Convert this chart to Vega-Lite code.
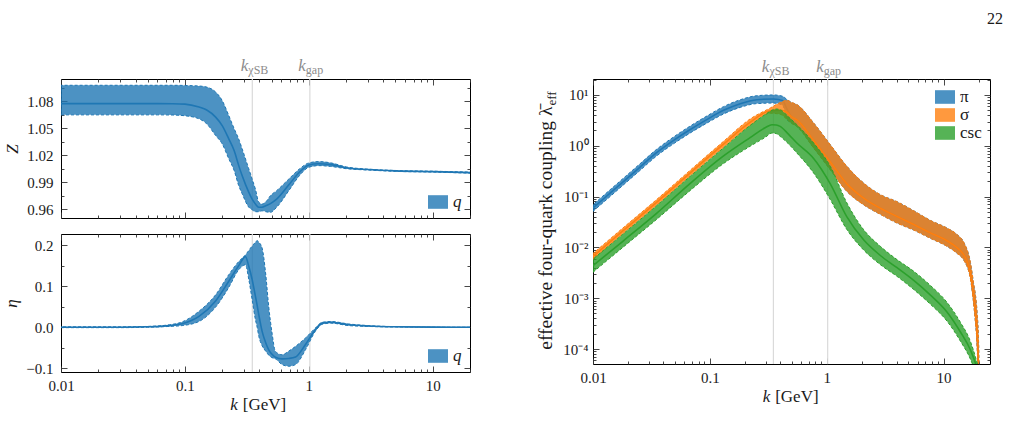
{
  "$schema": "https://vega.github.io/schema/vega-lite/v6.json",
  "background": "white",
  "padding": {"left": 2, "top": 10, "right": 5, "bottom": 5},
  "title": {"text": "22", "anchor": "end", "fontSize": 16, "font": "Liberation Serif", "fontWeight": "normal", "color": "#1a1a1a", "offset": 30, "dx": 12},
  "config": {
    "view": {"stroke": "#000", "strokeWidth": 1}
  },
  "datasets": {
    "Z": [
      {"k": 0.01, "lo": 1.065, "mid": 1.0775, "hi": 1.098, "s": "q"},
      {"k": 0.03, "lo": 1.065, "mid": 1.0775, "hi": 1.098, "s": "q"},
      {"k": 0.06, "lo": 1.065, "mid": 1.0775, "hi": 1.098, "s": "q"},
      {"k": 0.08, "lo": 1.0648, "mid": 1.0774, "hi": 1.098, "s": "q"},
      {"k": 0.1, "lo": 1.064, "mid": 1.077, "hi": 1.0978, "s": "q"},
      {"k": 0.13, "lo": 1.0606, "mid": 1.0737, "hi": 1.0972, "s": "q"},
      {"k": 0.15, "lo": 1.055, "mid": 1.0705, "hi": 1.096, "s": "q"},
      {"k": 0.177, "lo": 1.042, "mid": 1.0625, "hi": 1.0905, "s": "q"},
      {"k": 0.2, "lo": 1.0327, "mid": 1.053, "hi": 1.081, "s": "q"},
      {"k": 0.226, "lo": 1.016, "mid": 1.0383, "hi": 1.0643, "s": "q"},
      {"k": 0.25, "lo": 1.0028, "mid": 1.025, "hi": 1.0495, "s": "q"},
      {"k": 0.272, "lo": 0.986, "mid": 1.0084, "hi": 1.038, "s": "q"},
      {"k": 0.29, "lo": 0.977, "mid": 0.997, "hi": 1.027, "s": "q"},
      {"k": 0.328, "lo": 0.962, "mid": 0.9786, "hi": 1.0047, "s": "q"},
      {"k": 0.349, "lo": 0.9592, "mid": 0.971, "hi": 0.9935, "s": "q"},
      {"k": 0.371, "lo": 0.957, "mid": 0.9656, "hi": 0.982, "s": "q"},
      {"k": 0.395, "lo": 0.957, "mid": 0.962, "hi": 0.9675, "s": "q"},
      {"k": 0.42, "lo": 0.958, "mid": 0.962, "hi": 0.9655, "s": "q"},
      {"k": 0.45, "lo": 0.957, "mid": 0.9637, "hi": 0.968, "s": "q"},
      {"k": 0.49, "lo": 0.9563, "mid": 0.966, "hi": 0.9749, "s": "q"},
      {"k": 0.55, "lo": 0.962, "mid": 0.971, "hi": 0.9805, "s": "q"},
      {"k": 0.69, "lo": 0.9805, "mid": 0.987, "hi": 0.9935, "s": "q"},
      {"k": 0.84, "lo": 0.9972, "mid": 1.001, "hi": 1.0047, "s": "q"},
      {"k": 1.0, "lo": 1.0066, "mid": 1.009, "hi": 1.0114, "s": "q"},
      {"k": 1.2, "lo": 1.0084, "mid": 1.0105, "hi": 1.0129, "s": "q"},
      {"k": 1.5, "lo": 1.0075, "mid": 1.0095, "hi": 1.0115, "s": "q"},
      {"k": 2, "lo": 1.005, "mid": 1.006, "hi": 1.007, "s": "q"},
      {"k": 3, "lo": 1.0035, "mid": 1.004, "hi": 1.0045, "s": "q"},
      {"k": 5, "lo": 1.002, "mid": 1.0025, "hi": 1.003, "s": "q"},
      {"k": 10, "lo": 1.0012, "mid": 1.0017, "hi": 1.0022, "s": "q"},
      {"k": 20, "lo": 1.0, "mid": 1.0006, "hi": 1.0012, "s": "q"}
    ],
    "eta": [
      {"k": 0.01, "lo": -0.001, "mid": 0, "hi": 0.001, "s": "q"},
      {"k": 0.03, "lo": -0.001, "mid": 0, "hi": 0.001, "s": "q"},
      {"k": 0.05, "lo": 0.0, "mid": 0.001, "hi": 0.002, "s": "q"},
      {"k": 0.075, "lo": 0.002, "mid": 0.004, "hi": 0.006, "s": "q"},
      {"k": 0.095, "lo": 0.004, "mid": 0.0085, "hi": 0.013, "s": "q"},
      {"k": 0.13, "lo": 0.014, "mid": 0.0265, "hi": 0.039, "s": "q"},
      {"k": 0.177, "lo": 0.049, "mid": 0.064, "hi": 0.079, "s": "q"},
      {"k": 0.226, "lo": 0.097, "mid": 0.112, "hi": 0.128, "s": "q"},
      {"k": 0.272, "lo": 0.14, "mid": 0.15, "hi": 0.16, "s": "q"},
      {"k": 0.308, "lo": 0.152, "mid": 0.172, "hi": 0.176, "s": "q"},
      {"k": 0.328, "lo": 0.116, "mid": 0.148, "hi": 0.187, "s": "q"},
      {"k": 0.349, "lo": 0.067, "mid": 0.116, "hi": 0.198, "s": "q"},
      {"k": 0.371, "lo": 0.018, "mid": 0.075, "hi": 0.207, "s": "q"},
      {"k": 0.383, "lo": 0.0, "mid": 0.053, "hi": 0.211, "s": "q"},
      {"k": 0.395, "lo": -0.022, "mid": 0.03, "hi": 0.207, "s": "q"},
      {"k": 0.42, "lo": -0.045, "mid": -0.01, "hi": 0.193, "s": "q"},
      {"k": 0.448, "lo": -0.058, "mid": -0.037, "hi": 0.132, "s": "q"},
      {"k": 0.475, "lo": -0.068, "mid": -0.055, "hi": 0.05, "s": "q"},
      {"k": 0.505, "lo": -0.074, "mid": -0.066, "hi": -0.014, "s": "q"},
      {"k": 0.538, "lo": -0.077, "mid": -0.073, "hi": -0.059, "s": "q"},
      {"k": 0.609, "lo": -0.091, "mid": -0.077, "hi": -0.067, "s": "q"},
      {"k": 0.69, "lo": -0.095, "mid": -0.076, "hi": -0.058, "s": "q"},
      {"k": 0.782, "lo": -0.091, "mid": -0.0725, "hi": -0.0465, "s": "q"},
      {"k": 0.94, "lo": -0.055, "mid": -0.042, "hi": -0.026, "s": "q"},
      {"k": 1.13, "lo": -0.01, "mid": -0.006, "hi": -0.002, "s": "q"},
      {"k": 1.28, "lo": 0.007, "mid": 0.01, "hi": 0.012, "s": "q"},
      {"k": 1.5, "lo": 0.01, "mid": 0.012, "hi": 0.014, "s": "q"},
      {"k": 2.1, "lo": 0.004, "mid": 0.006, "hi": 0.008, "s": "q"},
      {"k": 3, "lo": 0.002, "mid": 0.003, "hi": 0.004, "s": "q"},
      {"k": 5, "lo": 0.0005, "mid": 0.001, "hi": 0.0015, "s": "q"},
      {"k": 10, "lo": 0.0, "mid": 0.0003, "hi": 0.0006, "s": "q"},
      {"k": 20, "lo": -0.0003, "mid": 0.0, "hi": 0.0003, "s": "q"}
    ],
    "lam": [
      {"k": 0.01, "ch": "π", "lo": 0.0513, "mid": 0.0596, "hi": 0.0692},
      {"k": 0.014, "ch": "π", "lo": 0.1, "mid": 0.117, "hi": 0.136},
      {"k": 0.018, "ch": "π", "lo": 0.166, "mid": 0.193, "hi": 0.225},
      {"k": 0.025, "ch": "π", "lo": 0.32, "mid": 0.372, "hi": 0.433},
      {"k": 0.035, "ch": "π", "lo": 0.627, "mid": 0.73, "hi": 0.849},
      {"k": 0.05, "ch": "π", "lo": 1.13, "mid": 1.318, "hi": 1.54},
      {"k": 0.068, "ch": "π", "lo": 1.79, "mid": 2.09, "hi": 2.45},
      {"k": 0.095, "ch": "π", "lo": 2.818, "mid": 3.311, "hi": 3.89},
      {"k": 0.131, "ch": "π", "lo": 4.217, "mid": 4.977, "hi": 5.888},
      {"k": 0.182, "ch": "π", "lo": 5.689, "mid": 6.745, "hi": 8.035},
      {"k": 0.253, "ch": "π", "lo": 6.761, "mid": 8.072, "hi": 9.661},
      {"k": 0.351, "ch": "π", "lo": 6.918, "mid": 8.337, "hi": 10.0},
      {"k": 0.42, "ch": "π", "lo": 6.31, "mid": 7.762, "hi": 9.441},
      {"k": 0.457, "ch": "π", "lo": 3.311, "mid": 5.248, "hi": 8.128},
      {"k": 0.5, "ch": "π", "lo": 2.786, "mid": 3.715, "hi": 7.129},
      {"k": 0.556, "ch": "π", "lo": 2.399, "mid": 3.236, "hi": 6.457},
      {"k": 0.773, "ch": "π", "lo": 0.906, "mid": 1.274, "hi": 2.812},
      {"k": 1.074, "ch": "π", "lo": 0.339, "mid": 0.479, "hi": 1.052},
      {"k": 1.49, "ch": "π", "lo": 0.1265, "mid": 0.178, "hi": 0.394},
      {"k": 2.07, "ch": "π", "lo": 0.0692, "mid": 0.0933, "hi": 0.185},
      {"k": 2.88, "ch": "π", "lo": 0.0447, "mid": 0.0589, "hi": 0.109},
      {"k": 4.0, "ch": "π", "lo": 0.0302, "mid": 0.0407, "hi": 0.0794},
      {"k": 5.56, "ch": "π", "lo": 0.0219, "mid": 0.0282, "hi": 0.0525},
      {"k": 7.73, "ch": "π", "lo": 0.0151, "mid": 0.0193, "hi": 0.0339},
      {"k": 10.7, "ch": "π", "lo": 0.0105, "mid": 0.0135, "hi": 0.024},
      {"k": 13.1, "ch": "π", "lo": 0.00759, "mid": 0.00977, "hi": 0.0178},
      {"k": 14.9, "ch": "π", "lo": 0.00562, "mid": 0.00716, "hi": 0.0126},
      {"k": 17.0, "ch": "π", "lo": 0.0024, "mid": 0.00302, "hi": 0.00501},
      {"k": 18.2, "ch": "π", "lo": 0.000708, "mid": 0.000933, "hi": 0.00178},
      {"k": 18.8, "ch": "π", "lo": 0.000316, "mid": 0.000468, "hi": 0.00112},
      {"k": 19.4, "ch": "π", "lo": 0.000115, "mid": 0.000178, "hi": 0.000501},
      {"k": 20.0, "ch": "π", "lo": 0.00001, "mid": 0.0000251, "hi": 0.000115},
      {"k": 20.3, "ch": "π", "lo": 0.000001, "mid": 0.0000016, "hi": 0.000005},
      {"k": 0.01, "ch": "σ", "lo": 0.00575, "mid": 0.00661, "hi": 0.00759},
      {"k": 0.018, "ch": "σ", "lo": 0.0186, "mid": 0.0211, "hi": 0.024},
      {"k": 0.035, "ch": "σ", "lo": 0.0676, "mid": 0.0767, "hi": 0.0871},
      {"k": 0.068, "ch": "σ", "lo": 0.257, "mid": 0.292, "hi": 0.331},
      {"k": 0.131, "ch": "σ", "lo": 0.933, "mid": 1.072, "hi": 1.222},
      {"k": 0.221, "ch": "σ", "lo": 2.512, "mid": 2.884, "hi": 3.365},
      {"k": 0.329, "ch": "σ", "lo": 4.365, "mid": 4.898, "hi": 5.546},
      {"k": 0.4, "ch": "σ", "lo": 4.169, "mid": 5.012, "hi": 7.079},
      {"k": 0.457, "ch": "σ", "lo": 3.311, "mid": 4.571, "hi": 7.834},
      {"k": 0.5, "ch": "σ", "lo": 2.786, "mid": 3.715, "hi": 7.129},
      {"k": 0.556, "ch": "σ", "lo": 2.399, "mid": 3.236, "hi": 6.457},
      {"k": 0.773, "ch": "σ", "lo": 0.906, "mid": 1.274, "hi": 2.812},
      {"k": 1.074, "ch": "σ", "lo": 0.339, "mid": 0.479, "hi": 1.052},
      {"k": 1.49, "ch": "σ", "lo": 0.1265, "mid": 0.178, "hi": 0.394},
      {"k": 2.07, "ch": "σ", "lo": 0.0692, "mid": 0.0933, "hi": 0.185},
      {"k": 2.88, "ch": "σ", "lo": 0.0447, "mid": 0.0589, "hi": 0.109},
      {"k": 4.0, "ch": "σ", "lo": 0.0302, "mid": 0.0407, "hi": 0.0794},
      {"k": 5.56, "ch": "σ", "lo": 0.0219, "mid": 0.0282, "hi": 0.0525},
      {"k": 7.73, "ch": "σ", "lo": 0.0151, "mid": 0.0193, "hi": 0.0339},
      {"k": 10.7, "ch": "σ", "lo": 0.0105, "mid": 0.0135, "hi": 0.024},
      {"k": 13.1, "ch": "σ", "lo": 0.00759, "mid": 0.00977, "hi": 0.0178},
      {"k": 14.9, "ch": "σ", "lo": 0.00562, "mid": 0.00716, "hi": 0.0126},
      {"k": 17.0, "ch": "σ", "lo": 0.0024, "mid": 0.00302, "hi": 0.00501},
      {"k": 18.2, "ch": "σ", "lo": 0.000708, "mid": 0.000933, "hi": 0.00178},
      {"k": 18.8, "ch": "σ", "lo": 0.000316, "mid": 0.000468, "hi": 0.00112},
      {"k": 19.4, "ch": "σ", "lo": 0.000115, "mid": 0.000178, "hi": 0.000501},
      {"k": 20.0, "ch": "σ", "lo": 0.00001, "mid": 0.0000251, "hi": 0.000115},
      {"k": 20.3, "ch": "σ", "lo": 0.000001, "mid": 0.0000016, "hi": 0.000005},
      {"k": 0.01, "ch": "csc", "lo": 0.00324, "mid": 0.00437, "hi": 0.00589},
      {"k": 0.018, "ch": "csc", "lo": 0.01, "mid": 0.0132, "hi": 0.0182},
      {"k": 0.035, "ch": "csc", "lo": 0.0355, "mid": 0.0468, "hi": 0.0661},
      {"k": 0.068, "ch": "csc", "lo": 0.132, "mid": 0.182, "hi": 0.251},
      {"k": 0.131, "ch": "csc", "lo": 0.447, "mid": 0.631, "hi": 0.912},
      {"k": 0.221, "ch": "csc", "lo": 0.977, "mid": 1.445, "hi": 2.512},
      {"k": 0.3, "ch": "csc", "lo": 1.479, "mid": 2.291, "hi": 4.169},
      {"k": 0.34, "ch": "csc", "lo": 1.778, "mid": 2.6, "hi": 5.012},
      {"k": 0.37, "ch": "csc", "lo": 1.738, "mid": 2.57, "hi": 5.297},
      {"k": 0.4, "ch": "csc", "lo": 1.531, "mid": 2.41, "hi": 5.129},
      {"k": 0.47, "ch": "csc", "lo": 1.096, "mid": 1.698, "hi": 3.715},
      {"k": 0.556, "ch": "csc", "lo": 0.721, "mid": 1.135, "hi": 2.6},
      {"k": 0.773, "ch": "csc", "lo": 0.292, "mid": 0.562, "hi": 1.135},
      {"k": 1.074, "ch": "csc", "lo": 0.0871, "mid": 0.178, "hi": 0.394},
      {"k": 1.49, "ch": "csc", "lo": 0.0224, "mid": 0.0398, "hi": 0.0748},
      {"k": 2.07, "ch": "csc", "lo": 0.00891, "mid": 0.0141, "hi": 0.0224},
      {"k": 2.88, "ch": "csc", "lo": 0.00457, "mid": 0.00692, "hi": 0.0105},
      {"k": 4.0, "ch": "csc", "lo": 0.00269, "mid": 0.00398, "hi": 0.00575},
      {"k": 5.56, "ch": "csc", "lo": 0.00148, "mid": 0.00224, "hi": 0.00339},
      {"k": 7.73, "ch": "csc", "lo": 0.000759, "mid": 0.00115, "hi": 0.00178},
      {"k": 10.7, "ch": "csc", "lo": 0.000355, "mid": 0.000537, "hi": 0.000832},
      {"k": 14, "ch": "csc", "lo": 0.000141, "mid": 0.000214, "hi": 0.000331},
      {"k": 17, "ch": "csc", "lo": 0.0000631, "mid": 0.0000955, "hi": 0.000141},
      {"k": 19, "ch": "csc", "lo": 0.0000316, "mid": 0.0000479, "hi": 0.0000631},
      {"k": 20, "ch": "csc", "lo": 0.00002, "mid": 0.00003, "hi": 0.00004}
    ],
    "scales": [
      {"k": 0.35, "sub": "χSB"},
      {"k": 1.02, "sub": "gap"}
    ],
    "xtitle": [
      {"var": "k", "unit": "[GeV]"}
    ],
    "ytitle": [
      {"main": "effective four-quark coupling λ̄", "sub": "eff"}
    ]
  },
  "hconcat": [
    {
      "vconcat": [
        {
          "width": 409,
          "height": 139,
          "data": {"name": "Z"},
          "layer": [
            {
              "data": {"name": "scales"},
              "mark": {"type": "rule", "color": "#dadada", "strokeWidth": 1.2},
              "encoding": {"x": {"field": "k", "type": "quantitative", "scale": {"type": "log", "domain": [0.01, 20]}, "axis": null}}
            },
            {
              "mark": {"type": "area", "interpolate": "monotone", "fillOpacity": 0.8, "stroke": "#1f77b4", "strokeWidth": 1, "strokeDash": [3, 2], "clip": true},
              "encoding": {
                "x": {"field": "k", "type": "quantitative", "scale": {"type": "log", "domain": [0.01, 20]},
                  "axis": {"orient": "bottom", "labels": false, "title": null, "domain": false, "grid": false, "tickColor": "#333", "tickWidth": 0.9,
                    "values": [0.01,0.02,0.03,0.04,0.05,0.06,0.07,0.08,0.09,0.1,0.2,0.3,0.4,0.5,0.6,0.7,0.8,0.9,1,2,3,4,5,6,7,8,9,10,20],
                    "tickSize": {"condition": {"test": "indexof([0.01,0.1,1,10], datum.value) >= 0", "value": -6}, "value": -3}}},
                "y": {"field": "lo", "type": "quantitative", "scale": {"domain": [0.95, 1.105]},
                  "axis": {"orient": "left", "domain": false, "grid": false, "tickColor": "#333", "tickWidth": 0.9,
                    "title": "Z", "titleFont": "Liberation Serif", "titleFontSize": 17, "titleFontStyle": "italic", "titleFontWeight": "normal", "titleColor": "#1a1a1a", "titlePadding": 5,
                    "format": ".2f", "labelFont": "Liberation Serif", "labelFontSize": 15, "labelColor": "#1a1a1a", "labelPadding": 14, "labelOverlap": false, "labelFlush": false,
                    "values": [0.96,0.975,0.99,1.005,1.02,1.035,1.05,1.065,1.08,1.095],
                    "labelExpr": "indexof([0.96,0.99,1.02,1.05,1.08], datum.value) >= 0 ? datum.label : ''",
                    "tickSize": {"condition": {"test": "indexof([0.96,0.99,1.02,1.05,1.08], datum.value) >= 0", "value": -6}, "value": -3}}},
                "y2": {"field": "hi"},
                "color": {"field": "s", "type": "nominal", "scale": {"domain": ["q"], "range": ["#1f77b4"]},
                  "legend": {"title": null, "orient": "bottom-right", "offset": 8, "padding": 0, "labelFont": "Liberation Serif", "labelFontSize": 17, "labelFontStyle": "italic", "labelColor": "#1a1a1a", "labelOffset": 5,
                    "symbolType": "M-1,-0.68H1V0.68H-1Z", "symbolSize": 400, "symbolOpacity": 0.8, "symbolStrokeWidth": 0}}
              }
            },
            {
              "mark": {"type": "line", "interpolate": "monotone", "color": "#1f77b4", "strokeWidth": 1.6, "clip": true},
              "encoding": {
                "x": {"field": "k", "type": "quantitative", "scale": {"type": "log", "domain": [0.01, 20]},
                  "axis": {"orient": "top", "labels": false, "title": null, "domain": false, "grid": false, "tickColor": "#333", "tickWidth": 0.9,
                    "values": [0.01,0.02,0.03,0.04,0.05,0.06,0.07,0.08,0.09,0.1,0.2,0.3,0.4,0.5,0.6,0.7,0.8,0.9,1,2,3,4,5,6,7,8,9,10,20],
                    "tickSize": {"condition": {"test": "indexof([0.01,0.1,1,10], datum.value) >= 0", "value": -6}, "value": -3}}},
                "y": {"field": "mid", "type": "quantitative", "scale": {"domain": [0.95, 1.105]},
                  "axis": {"orient": "right", "labels": false, "title": null, "domain": false, "grid": false, "tickColor": "#333", "tickWidth": 0.9,
                    "values": [0.96,0.975,0.99,1.005,1.02,1.035,1.05,1.065,1.08,1.095],
                    "tickSize": {"condition": {"test": "indexof([0.96,0.99,1.02,1.05,1.08], datum.value) >= 0", "value": -6}, "value": -3}}}
              }
            },
            {
              "data": {"name": "scales"},
              "mark": {"type": "text", "text": "k", "font": "Liberation Serif", "fontStyle": "italic", "fontSize": 17, "color": "#8c8c8c", "align": "right", "baseline": "alphabetic", "dx": -4},
              "encoding": {
                "x": {"field": "k", "type": "quantitative", "scale": {"type": "log", "domain": [0.01, 20]}, "axis": null},
                "y": {"datum": 1.1136, "type": "quantitative", "scale": {"domain": [0.95, 1.105]}, "axis": null}
              }
            },
            {
              "data": {"name": "scales"},
              "mark": {"type": "text", "font": "Liberation Serif", "fontSize": 12, "color": "#8c8c8c", "align": "left", "baseline": "alphabetic", "dx": -4, "dy": 3},
              "encoding": {
                "x": {"field": "k", "type": "quantitative", "scale": {"type": "log", "domain": [0.01, 20]}, "axis": null},
                "y": {"datum": 1.1136, "type": "quantitative", "scale": {"domain": [0.95, 1.105]}, "axis": null},
                "text": {"field": "sub"}
              }
            }
          ],
          "resolve": {"axis": {"x": "independent", "y": "independent"}}
        },
        {
          "width": 409,
          "height": 138,
          "data": {"name": "eta"},
          "layer": [
            {
              "data": {"name": "scales"},
              "mark": {"type": "rule", "color": "#dadada", "strokeWidth": 1.2},
              "encoding": {"x": {"field": "k", "type": "quantitative", "scale": {"type": "log", "domain": [0.01, 20]}, "axis": null}}
            },
            {
              "mark": {"type": "area", "interpolate": "monotone", "fillOpacity": 0.8, "stroke": "#1f77b4", "strokeWidth": 1, "strokeDash": [3, 2], "clip": true},
              "encoding": {
                "x": {"field": "k", "type": "quantitative", "scale": {"type": "log", "domain": [0.01, 20]},
                  "axis": {"orient": "bottom", "title": null, "domain": false, "grid": false, "tickColor": "#333", "tickWidth": 0.9,
                    "format": "~g", "labelFont": "Liberation Serif", "labelFontSize": 15, "labelColor": "#1a1a1a", "labelPadding": 12, "labelOverlap": false, "labelFlush": false,
                    "values": [0.01,0.02,0.03,0.04,0.05,0.06,0.07,0.08,0.09,0.1,0.2,0.3,0.4,0.5,0.6,0.7,0.8,0.9,1,2,3,4,5,6,7,8,9,10,20],
                    "labelExpr": "indexof([0.01,0.1,1,10], datum.value) >= 0 ? datum.label : ''",
                    "tickSize": {"condition": {"test": "indexof([0.01,0.1,1,10], datum.value) >= 0", "value": -6}, "value": -3}}},
                "y": {"field": "lo", "type": "quantitative", "scale": {"domain": [-0.109, 0.227]},
                  "axis": {"orient": "left", "domain": false, "grid": false, "tickColor": "#333", "tickWidth": 0.9,
                    "title": "η", "titleFont": "Liberation Serif", "titleFontSize": 17, "titleFontStyle": "italic", "titleFontWeight": "normal", "titleColor": "#1a1a1a", "titlePadding": 5,
                    "format": ".1f", "labelFont": "Liberation Serif", "labelFontSize": 15, "labelColor": "#1a1a1a", "labelPadding": 14, "labelOverlap": false, "labelFlush": false,
                    "values": [-0.1,-0.05,0,0.05,0.1,0.15,0.2],
                    "labelExpr": "indexof([-0.1,0,0.1,0.2], datum.value) >= 0 ? datum.label : ''",
                    "tickSize": {"condition": {"test": "indexof([-0.1,0,0.1,0.2], datum.value) >= 0", "value": -6}, "value": -3}}},
                "y2": {"field": "hi"},
                "color": {"field": "s", "type": "nominal", "scale": {"domain": ["q"], "range": ["#1f77b4"]},
                  "legend": {"title": null, "orient": "bottom-right", "offset": 8, "padding": 0, "labelFont": "Liberation Serif", "labelFontSize": 17, "labelFontStyle": "italic", "labelColor": "#1a1a1a", "labelOffset": 5,
                    "symbolType": "M-1,-0.68H1V0.68H-1Z", "symbolSize": 400, "symbolOpacity": 0.8, "symbolStrokeWidth": 0}}
              }
            },
            {
              "mark": {"type": "line", "interpolate": "monotone", "color": "#1f77b4", "strokeWidth": 1.6, "clip": true},
              "encoding": {
                "x": {"field": "k", "type": "quantitative", "scale": {"type": "log", "domain": [0.01, 20]},
                  "axis": {"orient": "top", "labels": false, "title": null, "domain": false, "grid": false, "tickColor": "#333", "tickWidth": 0.9,
                    "values": [0.01,0.02,0.03,0.04,0.05,0.06,0.07,0.08,0.09,0.1,0.2,0.3,0.4,0.5,0.6,0.7,0.8,0.9,1,2,3,4,5,6,7,8,9,10,20],
                    "tickSize": {"condition": {"test": "indexof([0.01,0.1,1,10], datum.value) >= 0", "value": -6}, "value": -3}}},
                "y": {"field": "mid", "type": "quantitative", "scale": {"domain": [-0.109, 0.227]},
                  "axis": {"orient": "right", "labels": false, "title": null, "domain": false, "grid": false, "tickColor": "#333", "tickWidth": 0.9,
                    "values": [-0.1,-0.05,0,0.05,0.1,0.15,0.2],
                    "tickSize": {"condition": {"test": "indexof([-0.1,0,0.1,0.2], datum.value) >= 0", "value": -6}, "value": -3}}}
              }
            },
            {
              "data": {"name": "xtitle"},
              "mark": {"type": "text", "font": "Liberation Serif", "fontStyle": "italic", "fontSize": 17, "color": "#1a1a1a", "align": "right", "baseline": "alphabetic", "dx": -1},
              "encoding": {
                "x": {"datum": 0.2726, "type": "quantitative", "scale": {"type": "log", "domain": [0.01, 20]}, "axis": null},
                "y": {"datum": -0.2015, "type": "quantitative", "scale": {"domain": [-0.109, 0.227]}, "axis": null},
                "text": {"field": "var"}
              }
            },
            {
              "data": {"name": "xtitle"},
              "mark": {"type": "text", "font": "Liberation Serif", "fontSize": 17, "color": "#1a1a1a", "align": "left", "baseline": "alphabetic", "dx": 4},
              "encoding": {
                "x": {"datum": 0.2726, "type": "quantitative", "scale": {"type": "log", "domain": [0.01, 20]}, "axis": null},
                "y": {"datum": -0.2015, "type": "quantitative", "scale": {"domain": [-0.109, 0.227]}, "axis": null},
                "text": {"field": "unit"}
              }
            }
          ],
          "resolve": {"axis": {"x": "independent", "y": "independent"}}
        }
      ],
      "spacing": 12,
      "resolve": {"legend": {"color": "independent"}, "scale": {"color": "independent"}}
    },
    {
      "width": 397,
      "height": 285,
      "data": {"name": "lam"},
      "layer": [
        {
          "data": {"name": "scales"},
          "mark": {"type": "rule", "color": "#dadada", "strokeWidth": 1.2},
          "encoding": {"x": {"field": "k", "type": "quantitative", "scale": {"type": "log", "domain": [0.01, 25]}, "axis": null}}
        },
        {
          "transform": [{"filter": "datum.ch == 'π'"}],
          "mark": {"type": "area", "interpolate": "monotone", "fillOpacity": 0.8, "stroke": "#1f77b4", "strokeWidth": 1, "strokeDash": [3, 2], "clip": true},
          "encoding": {
            "x": {"field": "k", "type": "quantitative", "scale": {"type": "log", "domain": [0.01, 25]},
              "axis": {"orient": "bottom", "title": null, "domain": false, "grid": false, "tickColor": "#333", "tickWidth": 0.9,
                "format": "~g", "labelFont": "Liberation Serif", "labelFontSize": 15, "labelColor": "#1a1a1a", "labelPadding": 12, "labelOverlap": false, "labelFlush": false,
                "values": [0.01,0.02,0.03,0.04,0.05,0.06,0.07,0.08,0.09,0.1,0.2,0.3,0.4,0.5,0.6,0.7,0.8,0.9,1,2,3,4,5,6,7,8,9,10,20],
                "labelExpr": "indexof([0.01,0.1,1,10], datum.value) >= 0 ? datum.label : ''",
                "tickSize": {"condition": {"test": "indexof([0.01,0.1,1,10], datum.value) >= 0", "value": -6}, "value": -3}}},
            "y": {"field": "lo", "type": "quantitative", "scale": {"type": "log", "domain": [0.0000507, 20.6]},
              "axis": {"orient": "left", "title": null, "domain": false, "grid": false, "tickColor": "#333", "tickWidth": 0.9,
                "labelFont": "Liberation Serif", "labelFontSize": 15, "labelColor": "#1a1a1a", "labelPadding": 11, "labelOverlap": false, "labelFlush": false,
                "values": [0.00006,0.00007,0.00008,0.00009,0.0001,0.0002,0.0003,0.0004,0.0005,0.0006,0.0007,0.0008,0.0009,0.001,0.002,0.003,0.004,0.005,0.006,0.007,0.008,0.009,0.01,0.02,0.03,0.04,0.05,0.06,0.07,0.08,0.09,0.1,0.2,0.3,0.4,0.5,0.6,0.7,0.8,0.9,1,2,3,4,5,6,7,8,9,10,20],
                "labelExpr": "datum.value == 10 ? '10¹' : datum.value == 1 ? '10⁰' : datum.value == 0.1 ? '10⁻¹' : datum.value == 0.01 ? '10⁻²' : datum.value == 0.001 ? '10⁻³' : datum.value == 0.0001 ? '10⁻⁴' : ''",
                "tickSize": {"condition": {"test": "indexof([0.0001,0.001,0.01,0.1,1,10], datum.value) >= 0", "value": -6}, "value": -3}}},
            "y2": {"field": "hi"},
            "color": {"field": "ch", "type": "nominal", "scale": {"domain": ["π", "σ", "csc"], "range": ["#1f77b4", "#ff7f0e", "#2ca02c"]},
              "legend": {"title": null, "orient": "top-right", "offset": 8, "padding": 0, "rowPadding": 0, "labelFont": "Liberation Serif", "labelFontSize": 17, "labelColor": "#1a1a1a", "labelOffset": 5,
                "symbolType": "M-1,-0.68H1V0.68H-1Z", "symbolSize": 400, "symbolOpacity": 0.8, "symbolStrokeWidth": 0,
                "encode": {"labels": {"update": {"fontStyle": {"signal": "datum.label == 'csc' ? 'normal' : 'italic'"}}}}}}
          }
        },
        {
          "transform": [{"filter": "datum.ch == 'π'"}],
          "mark": {"type": "line", "interpolate": "monotone", "color": "#1f77b4", "strokeWidth": 1.6, "clip": true},
          "encoding": {
            "x": {"field": "k", "type": "quantitative", "scale": {"type": "log", "domain": [0.01, 25]},
              "axis": {"orient": "top", "labels": false, "title": null, "domain": false, "grid": false, "tickColor": "#333", "tickWidth": 0.9,
                "values": [0.01,0.02,0.03,0.04,0.05,0.06,0.07,0.08,0.09,0.1,0.2,0.3,0.4,0.5,0.6,0.7,0.8,0.9,1,2,3,4,5,6,7,8,9,10,20],
                "tickSize": {"condition": {"test": "indexof([0.01,0.1,1,10], datum.value) >= 0", "value": -6}, "value": -3}}},
            "y": {"field": "mid", "type": "quantitative", "scale": {"type": "log", "domain": [0.0000507, 20.6]},
              "axis": {"orient": "right", "labels": false, "title": null, "domain": false, "grid": false, "tickColor": "#333", "tickWidth": 0.9,
                "values": [0.00006,0.00007,0.00008,0.00009,0.0001,0.0002,0.0003,0.0004,0.0005,0.0006,0.0007,0.0008,0.0009,0.001,0.002,0.003,0.004,0.005,0.006,0.007,0.008,0.009,0.01,0.02,0.03,0.04,0.05,0.06,0.07,0.08,0.09,0.1,0.2,0.3,0.4,0.5,0.6,0.7,0.8,0.9,1,2,3,4,5,6,7,8,9,10,20],
                "tickSize": {"condition": {"test": "indexof([0.0001,0.001,0.01,0.1,1,10], datum.value) >= 0", "value": -6}, "value": -3}}}
          }
        },
        {
          "transform": [{"filter": "datum.ch == 'σ'"}],
          "mark": {"type": "area", "interpolate": "monotone", "fillOpacity": 0.8, "stroke": "#ff7f0e", "strokeWidth": 1, "strokeDash": [3, 2], "clip": true},
          "encoding": {
            "x": {"field": "k", "type": "quantitative", "scale": {"type": "log", "domain": [0.01, 25]}, "axis": null},
            "y": {"field": "lo", "type": "quantitative", "scale": {"type": "log", "domain": [0.0000507, 20.6]}, "axis": null},
            "y2": {"field": "hi"},
            "color": {"field": "ch", "type": "nominal", "scale": {"domain": ["π", "σ", "csc"], "range": ["#1f77b4", "#ff7f0e", "#2ca02c"]},
              "legend": {"title": null, "orient": "top-right", "offset": 8, "padding": 0, "rowPadding": 0, "labelFont": "Liberation Serif", "labelFontSize": 17, "labelColor": "#1a1a1a", "labelOffset": 5,
                "symbolType": "M-1,-0.68H1V0.68H-1Z", "symbolSize": 400, "symbolOpacity": 0.8, "symbolStrokeWidth": 0,
                "encode": {"labels": {"update": {"fontStyle": {"signal": "datum.label == 'csc' ? 'normal' : 'italic'"}}}}}}
          }
        },
        {
          "transform": [{"filter": "datum.ch == 'σ'"}],
          "mark": {"type": "line", "interpolate": "monotone", "color": "#ff7f0e", "strokeWidth": 1.6, "clip": true},
          "encoding": {
            "x": {"field": "k", "type": "quantitative", "scale": {"type": "log", "domain": [0.01, 25]}, "axis": null},
            "y": {"field": "mid", "type": "quantitative", "scale": {"type": "log", "domain": [0.0000507, 20.6]}, "axis": null}
          }
        },
        {
          "transform": [{"filter": "datum.ch == 'csc'"}],
          "mark": {"type": "area", "interpolate": "monotone", "fillOpacity": 0.8, "stroke": "#2ca02c", "strokeWidth": 1, "strokeDash": [3, 2], "clip": true},
          "encoding": {
            "x": {"field": "k", "type": "quantitative", "scale": {"type": "log", "domain": [0.01, 25]}, "axis": null},
            "y": {"field": "lo", "type": "quantitative", "scale": {"type": "log", "domain": [0.0000507, 20.6]}, "axis": null},
            "y2": {"field": "hi"},
            "color": {"field": "ch", "type": "nominal", "scale": {"domain": ["π", "σ", "csc"], "range": ["#1f77b4", "#ff7f0e", "#2ca02c"]},
              "legend": {"title": null, "orient": "top-right", "offset": 8, "padding": 0, "rowPadding": 0, "labelFont": "Liberation Serif", "labelFontSize": 17, "labelColor": "#1a1a1a", "labelOffset": 5,
                "symbolType": "M-1,-0.68H1V0.68H-1Z", "symbolSize": 400, "symbolOpacity": 0.8, "symbolStrokeWidth": 0,
                "encode": {"labels": {"update": {"fontStyle": {"signal": "datum.label == 'csc' ? 'normal' : 'italic'"}}}}}}
          }
        },
        {
          "transform": [{"filter": "datum.ch == 'csc'"}],
          "mark": {"type": "line", "interpolate": "monotone", "color": "#2ca02c", "strokeWidth": 1.6, "clip": true},
          "encoding": {
            "x": {"field": "k", "type": "quantitative", "scale": {"type": "log", "domain": [0.01, 25]}, "axis": null},
            "y": {"field": "mid", "type": "quantitative", "scale": {"type": "log", "domain": [0.0000507, 20.6]}, "axis": null}
          }
        },
        {
          "data": {"name": "scales"},
          "mark": {"type": "text", "text": "k", "font": "Liberation Serif", "fontStyle": "italic", "fontSize": 17, "color": "#8c8c8c", "align": "right", "baseline": "alphabetic", "dx": -4},
          "encoding": {
            "x": {"field": "k", "type": "quantitative", "scale": {"type": "log", "domain": [0.01, 25]}, "axis": null},
            "y": {"datum": 27.9, "type": "quantitative", "scale": {"type": "log", "domain": [0.0000507, 20.6]}, "axis": null}
          }
        },
        {
          "data": {"name": "scales"},
          "mark": {"type": "text", "font": "Liberation Serif", "fontSize": 12, "color": "#8c8c8c", "align": "left", "baseline": "alphabetic", "dx": -4, "dy": 3},
          "encoding": {
            "x": {"field": "k", "type": "quantitative", "scale": {"type": "log", "domain": [0.01, 25]}, "axis": null},
            "y": {"datum": 27.9, "type": "quantitative", "scale": {"type": "log", "domain": [0.0000507, 20.6]}, "axis": null},
            "text": {"field": "sub"}
          }
        },
        {
          "data": {"name": "xtitle"},
          "mark": {"type": "text", "font": "Liberation Serif", "fontStyle": "italic", "fontSize": 17, "color": "#1a1a1a", "align": "right", "baseline": "alphabetic", "dx": -1},
          "encoding": {
            "x": {"datum": 0.335, "type": "quantitative", "scale": {"type": "log", "domain": [0.01, 25]}, "axis": null},
            "y": {"datum": 0.00000906, "type": "quantitative", "scale": {"type": "log", "domain": [0.0000507, 20.6]}, "axis": null},
            "text": {"field": "var"}
          }
        },
        {
          "data": {"name": "xtitle"},
          "mark": {"type": "text", "font": "Liberation Serif", "fontSize": 17, "color": "#1a1a1a", "align": "left", "baseline": "alphabetic", "dx": 4},
          "encoding": {
            "x": {"datum": 0.335, "type": "quantitative", "scale": {"type": "log", "domain": [0.01, 25]}, "axis": null},
            "y": {"datum": 0.00000906, "type": "quantitative", "scale": {"type": "log", "domain": [0.0000507, 20.6]}, "axis": null},
            "text": {"field": "unit"}
          }
        },
        {
          "data": {"name": "ytitle"},
          "mark": {"type": "text", "font": "Liberation Serif", "fontSize": 19.5, "color": "#1a1a1a", "align": "right", "baseline": "alphabetic", "angle": 270},
          "encoding": {
            "x": {"datum": 0.00445, "type": "quantitative", "scale": {"type": "log", "domain": [0.01, 25]}, "axis": null},
            "y": {"datum": 5.9, "type": "quantitative", "scale": {"type": "log", "domain": [0.0000507, 20.6]}, "axis": null},
            "text": {"field": "main"}
          }
        },
        {
          "data": {"name": "ytitle"},
          "mark": {"type": "text", "font": "Liberation Serif", "fontSize": 13, "color": "#1a1a1a", "align": "left", "baseline": "alphabetic", "angle": 270, "dx": 1, "dy": 4},
          "encoding": {
            "x": {"datum": 0.00445, "type": "quantitative", "scale": {"type": "log", "domain": [0.01, 25]}, "axis": null},
            "y": {"datum": 5.9, "type": "quantitative", "scale": {"type": "log", "domain": [0.0000507, 20.6]}, "axis": null},
            "text": {"field": "sub"}
          }
        }
      ],
      "resolve": {"axis": {"x": "independent", "y": "independent"}}
    }
  ],
  "spacing": 64,
  "resolve": {"legend": {"color": "independent"}, "scale": {"color": "independent"}}
}
